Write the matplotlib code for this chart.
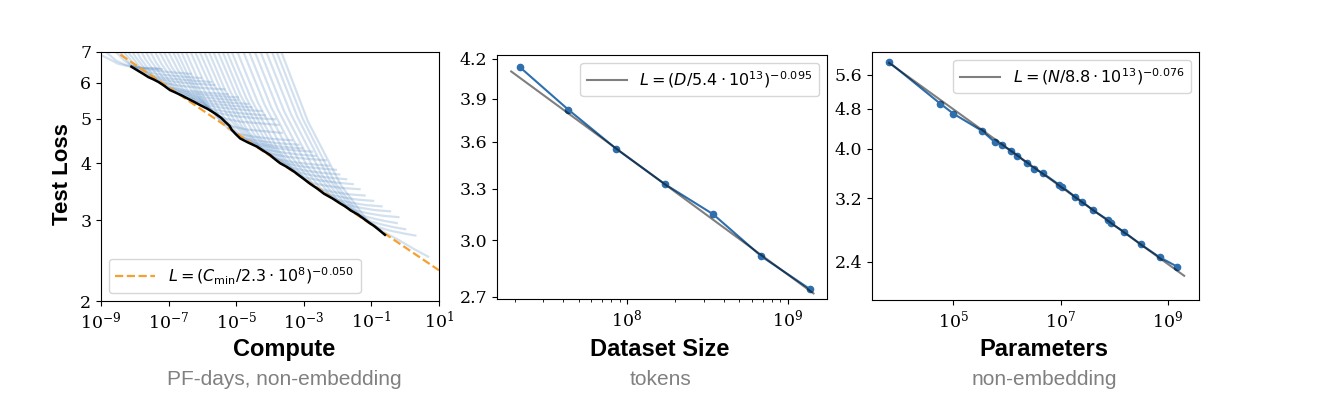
import numpy as np
import matplotlib
matplotlib.use('Agg')
import matplotlib.pyplot as plt
from matplotlib.ticker import FixedLocator, NullLocator, FormatStrFormatter, LogFormatterMathtext

# --- left panel: learning curves vs compute (log10 of PF-days) ---
frontier_logc = [-8.10, -7.95, -7.75, -7.60, -7.45, -7.30, -7.15, -6.96, -6.80, -6.60,
                 -6.46, -6.25, -6.07, -5.85, -5.63, -5.45, -5.33, -5.20, -5.13, -5.00,
                 -4.88, -4.65, -4.39, -4.20, -4.00, -3.85, -3.70, -3.51, -3.30, -3.05,
                 -2.82, -2.60, -2.40, -2.15, -1.93, -1.75, -1.60, -1.40, -1.24, -1.05,
                 -0.90, -0.75, -0.60]
frontier_loss = [6.50, 6.40, 6.27, 6.17, 6.10, 6.02, 5.92, 5.78, 5.71, 5.62,
                 5.55, 5.45, 5.36, 5.26, 5.14, 5.03, 4.93, 4.83, 4.73, 4.62,
                 4.53, 4.44, 4.35, 4.26, 4.17, 4.08, 4.00, 3.93, 3.84, 3.72,
                 3.61, 3.52, 3.43, 3.35, 3.27, 3.21, 3.15, 3.09, 3.03, 2.96,
                 2.91, 2.85, 2.79]

# one row per model size: points
curve_logc = [
    [-9.10, -8.80, -8.50, -8.20, -7.70, -7.20],
    [-9.10, -8.85, -8.55, -8.25, -7.80, -7.30],
    [-8.90, -8.62, -8.33, -8.09, -7.95, -7.47, -6.91, -6.35],
    [-8.76, -8.46, -8.16, -7.90, -7.75, -7.24, -6.65, -6.05],
    [-8.63, -8.30, -7.98, -7.71, -7.55, -7.01, -6.38, -5.75],
    [-8.49, -8.15, -7.81, -7.52, -7.35, -6.84, -6.25, -5.65],
    [-8.35, -7.99, -7.63, -7.33, -7.15, -6.61, -5.98, -5.35],
    [-8.21, -7.83, -7.46, -7.14, -6.95, -6.44, -5.85, -5.25],
    [-8.08, -7.68, -7.28, -6.95, -6.75, -6.21, -5.58, -4.95],
    [-7.94, -7.52, -7.11, -6.76, -6.55, -6.07, -5.51, -4.95],
    [-7.80, -7.37, -6.93, -6.57, -6.35, -5.84, -5.25, -4.65],
    [-7.66, -7.21, -6.76, -6.38, -6.15, -5.67, -5.11, -4.55],
    [-7.53, -7.05, -6.58, -6.19, -5.95, -5.44, -4.85, -4.25],
    [-7.39, -6.90, -6.41, -6.00, -5.75, -5.27, -4.71, -4.15],
    [-7.25, -6.74, -6.23, -5.81, -5.55, -5.04, -4.45, -3.85],
    [-7.11, -6.58, -6.06, -5.61, -5.35, -4.87, -4.31, -3.75],
    [-6.98, -6.43, -5.88, -5.42, -5.15, -4.70, -4.18, -3.65],
    [-6.84, -6.27, -5.71, -5.23, -4.95, -4.47, -3.91, -3.35],
    [-6.70, -6.12, -5.53, -5.04, -4.75, -4.27, -3.71, -3.15],
    [-6.56, -5.96, -5.36, -4.85, -4.55, -4.10, -3.57, -3.05],
    [-6.43, -5.80, -5.18, -4.66, -4.35, -3.87, -3.31, -2.75],
    [-6.29, -5.65, -5.01, -4.47, -4.15, -3.70, -3.17, -2.65],
    [-6.15, -5.49, -4.83, -4.28, -3.95, -3.47, -2.91, -2.35],
    [-6.01, -5.34, -4.66, -4.09, -3.75, -3.30, -2.77, -2.25],
    [-5.88, -5.18, -4.48, -3.90, -3.55, -3.10, -2.57, -2.05],
    [-5.74, -5.02, -4.31, -3.71, -3.35, -2.93, -2.44, -1.95],
    [-5.60, -4.87, -4.13, -3.52, -3.15, -2.73, -2.24, -1.75],
    [-5.47, -4.71, -3.96, -3.33, -2.95, -2.53, -2.04, -1.55],
    [-5.33, -4.55, -3.78, -3.14, -2.75, -2.33, -1.84, -1.35],
    [-5.16, -4.36, -3.56, -2.90, -2.50, -2.11, -1.65, -1.20],
    [-4.98, -4.16, -3.34, -2.66, -2.25, -1.86, -1.40, -0.95],
    [-4.81, -3.97, -3.13, -2.42, -2.00, -1.61, -1.15, -0.70],
    [-4.64, -3.77, -2.91, -2.18, -1.75, -1.36, -0.90, -0.45],
    [-4.47, -3.58, -2.69, -1.95, -1.50, -1.11, -0.65, -0.20],
    [-4.30, -3.38, -2.47, -1.71, -1.25, -0.95, -0.60, -0.25],
    [-4.13, -3.19, -2.25, -1.47, -1.00, -0.70, -0.35, 0.00],
    [-3.99, -3.03, -2.08, -1.28, -0.80, -0.45, -0.05, 0.30],
    [-3.85, -2.88, -1.90, -1.09, -0.60, -0.20, 0.25, 0.68],
]
curve_loss = [
    [6.95, 6.78, 6.60, 6.52, 6.45, 6.42],
    [7.40, 7.00, 6.70, 6.55, 6.47, 6.44],
    [7.60, 7.09, 6.72, 6.53, 6.48, 6.38, 6.32, 6.27],
    [7.60, 7.03, 6.62, 6.40, 6.35, 6.25, 6.19, 6.14],
    [7.60, 6.97, 6.52, 6.28, 6.22, 6.13, 6.07, 6.02],
    [7.60, 6.92, 6.44, 6.19, 6.12, 6.03, 5.97, 5.93],
    [7.60, 6.85, 6.33, 6.06, 5.99, 5.90, 5.84, 5.80],
    [7.60, 6.78, 6.22, 5.92, 5.85, 5.76, 5.70, 5.66],
    [7.60, 6.74, 6.14, 5.84, 5.76, 5.67, 5.61, 5.57],
    [7.60, 6.69, 6.07, 5.75, 5.67, 5.58, 5.53, 5.49],
    [7.60, 6.64, 5.98, 5.65, 5.57, 5.48, 5.43, 5.39],
    [7.60, 6.59, 5.91, 5.56, 5.47, 5.39, 5.34, 5.30],
    [7.60, 6.54, 5.82, 5.46, 5.37, 5.29, 5.24, 5.20],
    [7.60, 6.48, 5.73, 5.36, 5.26, 5.18, 5.13, 5.09],
    [7.60, 6.42, 5.64, 5.25, 5.15, 5.07, 5.02, 4.99],
    [7.60, 6.34, 5.52, 5.11, 5.01, 4.93, 4.89, 4.85],
    [7.60, 6.24, 5.35, 4.92, 4.82, 4.74, 4.70, 4.66],
    [7.60, 6.13, 5.20, 4.75, 4.64, 4.57, 4.52, 4.49],
    [7.60, 6.07, 5.11, 4.65, 4.53, 4.47, 4.42, 4.39],
    [7.60, 6.03, 5.04, 4.57, 4.45, 4.39, 4.34, 4.31],
    [7.60, 5.98, 4.98, 4.50, 4.38, 4.32, 4.27, 4.24],
    [7.60, 5.93, 4.90, 4.41, 4.29, 4.23, 4.18, 4.15],
    [7.60, 5.87, 4.81, 4.31, 4.19, 4.13, 4.09, 4.06],
    [7.60, 5.80, 4.71, 4.20, 4.08, 4.02, 3.98, 3.95],
    [7.60, 5.75, 4.64, 4.12, 4.00, 3.94, 3.90, 3.87],
    [7.60, 5.69, 4.56, 4.03, 3.91, 3.85, 3.81, 3.78],
    [7.60, 5.63, 4.47, 3.94, 3.82, 3.76, 3.72, 3.69],
    [7.60, 5.57, 4.39, 3.85, 3.72, 3.67, 3.63, 3.60],
    [7.60, 5.51, 4.30, 3.75, 3.62, 3.57, 3.53, 3.51],
    [7.60, 5.43, 4.20, 3.64, 3.51, 3.46, 3.42, 3.40],
    [7.60, 5.37, 4.11, 3.55, 3.42, 3.37, 3.33, 3.31],
    [7.60, 5.31, 4.03, 3.46, 3.33, 3.28, 3.24, 3.22],
    [7.60, 5.25, 3.95, 3.38, 3.25, 3.20, 3.16, 3.14],
    [7.60, 5.19, 3.87, 3.29, 3.16, 3.11, 3.07, 3.05],
    [7.60, 5.12, 3.78, 3.20, 3.07, 3.03, 2.99, 2.96],
    [7.60, 5.05, 3.69, 3.11, 2.98, 2.94, 2.90, 2.87],
    [7.60, 5.00, 3.63, 3.04, 2.90, 2.85, 2.81, 2.78],
    [7.60, 4.94, 3.58, 2.98, 2.82, 2.72, 2.60, 2.50],
]

compute_fit_c = 2.3e8
compute_fit_alpha = 0.050

# --- middle panel: dataset size ---
dataset_tokens = [2.15e7, 4.3e7, 8.6e7, 1.72e8, 3.44e8, 6.88e8, 1.376e9]
dataset_loss = [4.136, 3.823, 3.553, 3.329, 3.148, 2.911, 2.740]
dataset_fit_d = 5.4e13
dataset_fit_alpha = 0.095

# --- right panel: parameters ---
params_n = [6.3e3, 5.66e4, 1e5, 3.4e5, 5.97e5, 7.9e5, 1.18e6, 1.55e6, 2.38e6, 3.2e6,
            4.72e6, 9.4e6, 1.07e7, 1.86e7, 2.5e7, 4.03e7, 7.66e7, 8.6e7, 1.5e8, 3.07e8,
            7.0e8, 1.47e9]
params_loss = [5.92, 4.91, 4.69, 4.34, 4.12, 4.07, 3.97, 3.88, 3.75, 3.66,
               3.58, 3.40, 3.37, 3.22, 3.15, 3.03, 2.90, 2.86, 2.75, 2.60,
               2.45, 2.35]
params_fit_n = 8.8e13
params_fit_alpha = 0.076

plt.rcParams['font.family'] = 'DejaVu Serif'
plt.rcParams['mathtext.fontset'] = 'dejavuserif'

fig = plt.figure(figsize=(13.42, 4.04), dpi=100)
W, H = 1342, 404


def px_axes(l, t, r, b):
    return fig.add_axes([l / W, 1 - b / H, (r - l) / W, (b - t) / H])


ax1 = px_axes(101, 52, 439, 301)
ax2 = px_axes(497, 55, 827, 299)
ax3 = px_axes(872, 52, 1199, 300)

TICK_FS = 12.5
LEG_FS = 11.5
blue = '#2f6fae'

# left panel
for xs, ls in zip(curve_logc, curve_loss):
    ax1.plot(10.0 ** np.array(xs), ls, color='#3b78b8', alpha=0.22, lw=1.6, zorder=1)
cgrid = np.logspace(-9, 1, 200)
ax1.plot(cgrid, (cgrid / compute_fit_c) ** (-compute_fit_alpha), ls='--', color='#f5a030',
         lw=1.6, zorder=2, label=r'$L = (C_{\rm min}/2.3\cdot 10^{8})^{-0.050}$')
ax1.plot(10.0 ** np.array(frontier_logc), frontier_loss, color='k', lw=1.8, zorder=3)
ax1.set_xscale('log')
ax1.set_yscale('log')
ax1.set_xlim(1e-9, 1e1)
ax1.set_ylim(2, 7)
ax1.xaxis.set_major_locator(FixedLocator([1e-9, 1e-7, 1e-5, 1e-3, 1e-1, 1e1]))
ax1.xaxis.set_minor_locator(NullLocator())
ax1.yaxis.set_major_locator(FixedLocator([2, 3, 4, 5, 6, 7]))
ax1.yaxis.set_minor_locator(NullLocator())
leg1 = ax1.legend(loc='lower left', fontsize=LEG_FS, handlelength=2.5)

# middle panel
dgrid = np.logspace(np.log10(1.9e7), np.log10(1.45e9), 50)
ax2.plot(dataset_tokens, dataset_loss, '-o', color=blue, ms=4.5, lw=1.5, zorder=2)
ax2.plot(dgrid, (dgrid / dataset_fit_d) ** (-dataset_fit_alpha), color='k', alpha=0.5,
         lw=1.5, zorder=3, label=r'$L = (D/5.4\cdot 10^{13})^{-0.095}$')
ax2.set_xscale('log')
ax2.set_yscale('log')
ax2.set_xlim(1.55e7, 1.76e9)
ax2.set_ylim(2.69, 4.23)
ax2.yaxis.set_major_locator(FixedLocator([2.7, 3.0, 3.3, 3.6, 3.9, 4.2]))
ax2.yaxis.set_minor_locator(NullLocator())
leg2 = ax2.legend(loc='upper right', fontsize=LEG_FS, handlelength=2.5)

# right panel
ngrid = np.logspace(np.log10(6.3e3), np.log10(2.0e9), 50)
ax3.plot(params_n, params_loss, '-o', color=blue, ms=4.5, lw=1.5, zorder=2)
ax3.plot(ngrid, (ngrid / params_fit_n) ** (-params_fit_alpha), color='k', alpha=0.5,
         lw=1.5, zorder=3, label=r'$L = (N/8.8\cdot 10^{13})^{-0.076}$')
ax3.set_xscale('log')
ax3.set_yscale('log')
ax3.set_xlim(3.03e3, 3.78e9)
ax3.set_ylim(2.02, 6.2)
ax3.xaxis.set_major_locator(FixedLocator([1e5, 1e7, 1e9]))
ax3.xaxis.set_minor_locator(NullLocator())
ax3.yaxis.set_major_locator(FixedLocator([2.4, 3.2, 4.0, 4.8, 5.6]))
ax3.yaxis.set_minor_locator(NullLocator())
leg3 = ax3.legend(loc='upper right', fontsize=LEG_FS, handlelength=2.5)

for ax in (ax1, ax2, ax3):
    ax.xaxis.set_major_formatter(LogFormatterMathtext())
    ax.tick_params(labelsize=TICK_FS)
ax1.yaxis.set_major_formatter(FormatStrFormatter('%d'))
ax2.yaxis.set_major_formatter(FormatStrFormatter('%.1f'))
ax3.yaxis.set_major_formatter(FormatStrFormatter('%.1f'))
for leg in (leg1, leg2, leg3):
    for t in leg.get_texts():
        t.set_math_fontfamily('dejavusans')

sans = 'Liberation Sans'
fig.text(63 / W, 1 - 174 / H, 'Test Loss', rotation=90, ha='center', va='center',
         fontsize=16, fontweight='bold', family=sans)
titles = [(284, 'Compute', 'PF-days, non-embedding'),
          (660, 'Dataset Size', 'tokens'),
          (1044, 'Parameters', 'non-embedding')]
for cx, title, sub in titles:
    fig.text(cx / W, 1 - 356 / H, title, ha='center', va='baseline', fontsize=17,
             fontweight='bold', family=sans)
    fig.text(cx / W, 1 - 385 / H, sub, ha='center', va='baseline', fontsize=15,
             color='#808080', family=sans)

fig.savefig('out.png', dpi=100)
